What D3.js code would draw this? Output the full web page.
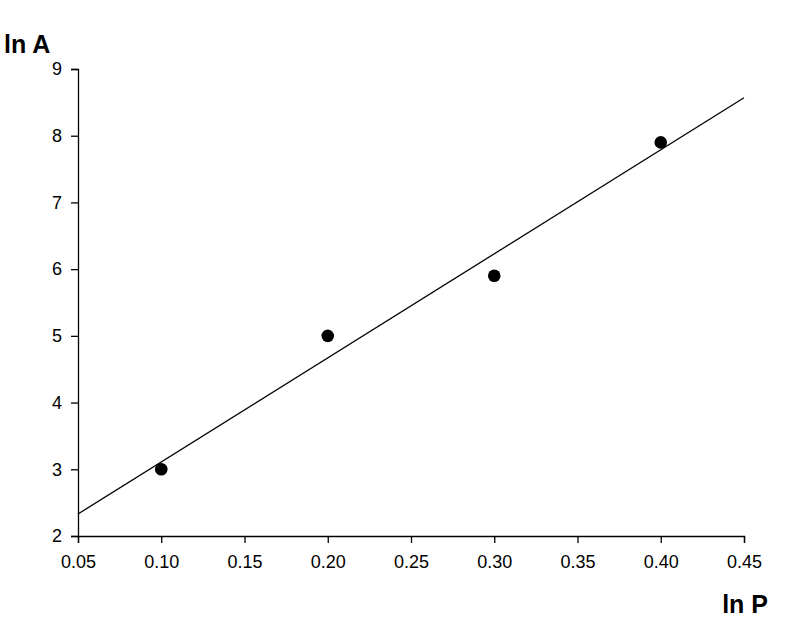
<!DOCTYPE html>
<html><head><meta charset="utf-8">
<script src="https://cdn.jsdelivr.net/npm/d3@7"></script>
<style>body{margin:0;background:#fff}svg{display:block;font-family:"Liberation Sans",Arial,sans-serif}</style>
</head><body><svg id="c" width="805" height="621"></svg>
<script>
const xValues=[0.10,0.20,0.30,0.40];
const yValues=[3,5,5.9,7.9];
const xTicks=[0.05,0.10,0.15,0.20,0.25,0.30,0.35,0.40,0.45];
const yTicks=[2,3,4,5,6,7,8,9];
const xTitle="ln P", yTitle="ln A";

const svg=d3.select("#c");
const x=d3.scaleLinear().domain([0.05,0.45]).range([78,744]);
const y=d3.scaleLinear().domain([2,9]).range([536,69]);

const xa=svg.append("g").attr("transform","translate(0,536)")
 .call(d3.axisBottom(x).tickValues(xTicks).tickFormat(d3.format(".2f")).tickSizeOuter(0).tickSize(7).tickPadding(12));
const ya=svg.append("g").attr("transform","translate(78,0)")
 .call(d3.axisLeft(y).tickValues(yTicks).tickFormat(d3.format("d")).tickSizeOuter(0).tickSize(7).tickPadding(9));
[xa,ya].forEach(a=>{a.selectAll("text").attr("font-size",18).attr("fill","#000").attr("font-family","Liberation Sans, Arial, sans-serif");
 a.selectAll("path,line").attr("stroke","#000").attr("stroke-width",1.3);});

// least squares fit from data
const mx=d3.mean(xValues), my=d3.mean(yValues);
const slope=d3.sum(xValues,(v,i)=>(v-mx)*(yValues[i]-my))/d3.sum(xValues,v=>(v-mx)*(v-mx));
const icpt=my-slope*mx;
const dom=x.domain();
svg.append("line").attr("x1",x(dom[0])).attr("y1",y(icpt+slope*dom[0]))
 .attr("x2",x(dom[1])).attr("y2",y(icpt+slope*dom[1])).attr("stroke","#000").attr("stroke-width",1.3);

svg.selectAll("circle.pt").data(xValues).enter().append("circle").attr("class","pt")
 .attr("cx",d=>x(d)).attr("cy",(d,i)=>y(yValues[i])).attr("r",6.3).attr("fill","#000");

svg.append("text").attr("x",4).attr("y",53).attr("font-size",25).attr("font-weight","bold").text(yTitle);
svg.append("text").attr("x",768).attr("y",613).attr("text-anchor","end").attr("font-size",25).attr("font-weight","bold").text(xTitle);
</script></body></html>
